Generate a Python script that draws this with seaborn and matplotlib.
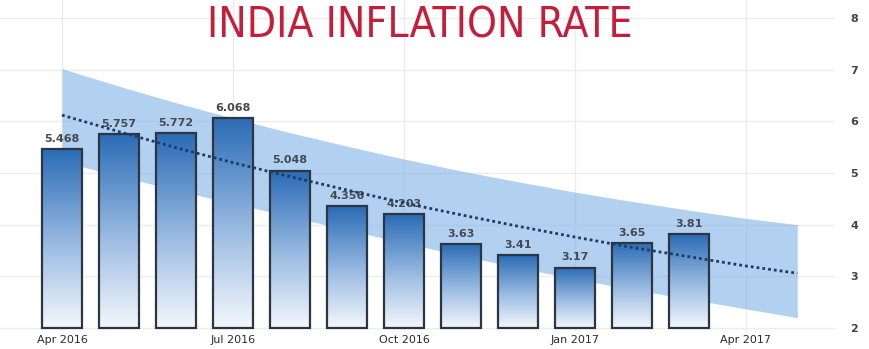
import numpy as np
import pandas as pd
import matplotlib
matplotlib.use("Agg")
import matplotlib.pyplot as plt
from matplotlib.colors import LinearSegmentedColormap
import seaborn as sns

# ---- data ----
months = ["Apr 2016", "May 2016", "Jun 2016", "Jul 2016", "Aug 2016", "Sep 2016",
          "Oct 2016", "Nov 2016", "Dec 2016", "Jan 2017", "Feb 2017", "Mar 2017"]
rates = [5.468, 5.757, 5.772, 6.068, 5.048, 4.356, 4.203, 3.63, 3.41, 3.17, 3.65, 3.81]
rate_labels = ["5.468", "5.757", "5.772", "6.068", "5.048", "4.356", "4.203",
               "3.63", "3.41", "3.17", "3.65", "3.81"]

band_pos = [0, 1, 2, 3, 4, 5, 6, 7, 8, 9, 10, 11, 12, 12.9]
trend = [6.12, 5.80, 5.49, 5.20, 4.93, 4.67, 4.42, 4.19, 3.97, 3.76, 3.56, 3.38, 3.20, 3.06]
upper = [7.02, 6.68, 6.36, 6.06, 5.78, 5.52, 5.27, 5.04, 4.83, 4.63, 4.45, 4.28, 4.12, 4.00]
lower = [5.22, 4.94, 4.67, 4.41, 4.16, 3.90, 3.65, 3.40, 3.17, 2.95, 2.75, 2.56, 2.37, 2.20]

xtick_pos = [0, 3, 6, 9, 12]
xtick_labels = ["Apr 2016", "Jul 2016", "Oct 2016", "Jan 2017", "Apr 2017"]
ytick_vals = [2, 3, 4, 5, 6, 7, 8]
baseline = 2

sns.set_style("white")
plt.rcParams["font.family"] = ["DejaVu Sans"]

fig = plt.figure(figsize=(8.69, 3.49), dpi=100)
ax = fig.add_axes([0, 18 / 349, 835 / 869, 331 / 349])

# band behind bars
ax.fill_between(band_pos, lower, upper, color="#80b1e6", alpha=0.6, lw=0, zorder=1)

df = pd.DataFrame({"month": months, "height": [r - baseline for r in rates]})
sns.barplot(data=df, x="month", y="height", bottom=baseline, width=0.70,
            color="#2b6cb6", errorbar=None, ax=ax, zorder=3)

cmap = LinearSegmentedColormap.from_list(
    "barg", [(0.0, "#f4f7fc"), (0.45, "#9dbde3"), (1.0, "#2a6bb5")])
grad = np.linspace(0, 1, 256).reshape(-1, 1)
for p in list(ax.patches):
    x0, w, y0, h = p.get_x(), p.get_width(), p.get_y(), p.get_height()
    im = ax.imshow(grad, extent=[x0, x0 + w, y0, y0 + h], origin="lower",
                   cmap=cmap, aspect="auto", zorder=2.5, interpolation="bicubic")
    im.set_clip_path(p)
    p.set_facecolor("none")
    p.set_edgecolor("#2c3642")
    p.set_linewidth(1.6)
    p.set_zorder(3)

for i, (v, t) in enumerate(zip(rates, rate_labels)):
    ax.text(i, v + 0.1, t, ha="center", va="bottom", fontsize=8,
            fontweight="bold", color="#454a52", zorder=4)

ax.plot(band_pos, trend, color="#1e3b64", lw=2.0, ls=(0, (1, 1.1)), zorder=5)

ax.set_xlim(-62 / 57, (835 - 62) / 57)
ax.set_ylim(baseline - 3 / 51.67, baseline + 328 / 51.67)
ax.set_xticks(xtick_pos)
ax.set_xticklabels(xtick_labels)
ax.set_yticks(ytick_vals)
ax.set_yticklabels([str(v) for v in ytick_vals])
ax.yaxis.tick_right()
ax.tick_params(axis="y", length=0, pad=11, labelsize=8, labelcolor="#444444")
ax.tick_params(axis="x", length=0, pad=3, labelsize=8, labelcolor="#2a2a2a")
for lab in ax.get_yticklabels():
    lab.set_fontweight("bold")
ax.set_xlabel("")
ax.set_ylabel("")
ax.grid(True, color="#ececec", lw=1)
ax.set_axisbelow(True)
sns.despine(ax=ax, left=True, bottom=True, right=True, top=True)

fig.text(419.5 / 869, 1 - 38 / 349, "INDIA INFLATION RATE", ha="center",
         va="baseline", fontsize=30.5, color="#c41e3a",
         family=["DejaVu Sans"], fontstretch="condensed")

fig.savefig("out.png", dpi=100)
